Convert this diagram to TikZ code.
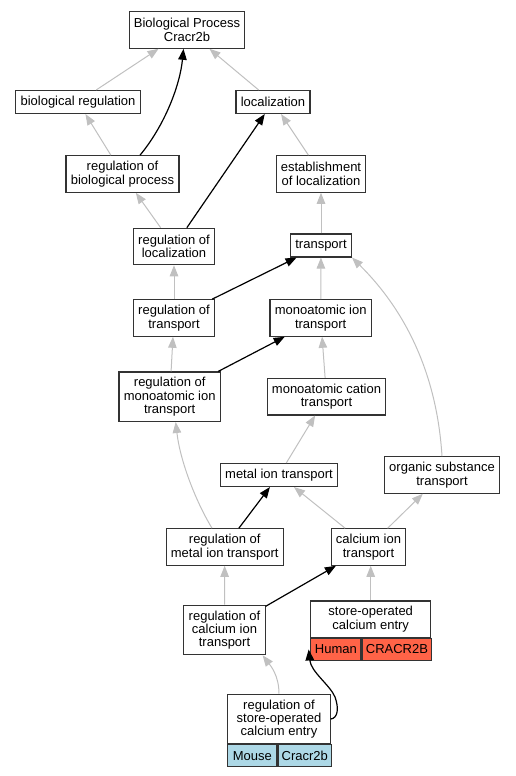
\documentclass[tikz,border=0pt]{standalone}
\usepackage{fontspec}
\setmainfont{Liberation Sans}
\usetikzlibrary{arrows.meta}
\definecolor{human}{RGB}{255,99,71}
\definecolor{mouse}{RGB}{173,216,230}
\definecolor{edgegray}{RGB}{192,192,192}
\tikzset{>={Triangle[length=11pt,width=8.5pt]}}
\tikzset{
	term/.style={draw=black!80, line width=1.1pt, fill=white, align=center, inner xsep=4.8pt, inner ysep=0pt, minimum height=23pt},
	two/.style={minimum height=36.5pt},
	three/.style={minimum height=49.5pt},
	cell/.style={draw=black!80, line width=1.1pt, inner sep=0pt, minimum height=21.7pt, anchor=north west},
	isa/.style={->, edgegray, line width=1pt},
	hit/.style={->, black, line width=1.2pt}
}

\begin{document}
\begin{tikzpicture}[x=1pt, y=-1pt, font=\fontsize{13}{13.3}\selectfont]
	\useasboundingbox (0,0) rectangle (515,776);
	\node [term, two] (bp) at (187,30) {Biological Process\\Cracr2b};
	\node [term] (bioreg) at (78,102) {biological regulation};
	\node [term] (loc) at (273,102) {localization};
	\node [term, two] (regbio) at (122.5,174) {regulation of\\biological process};
	\node [term, two] (estloc) at (321,174) {establishment\\of localization};
	\node [term, two] (regloc) at (174,246.5) {regulation of\\localization};
	\node [term] (transp) at (321,245.5) {transport};
	\node [term, two] (regtransp) at (174,318) {regulation of\\transport};
	\node [term, two] (ion) at (320.7,318) {monoatomic ion\\transport};
	\node [term, three] (region) at (169.7,396.7) {regulation of\\monoatomic ion\\transport};
	\node [term, two] (cation) at (326.5,396.7) {monoatomic cation\\transport};
	\node [term] (metal) at (279,475) {metal ion transport};
	\node [term, two] (organic) at (442,475) {organic substance\\transport};
	\node [term, two] (regmetal) at (224.7,547) {regulation of\\metal ion transport};
	\node [term, two] (calcium) at (368.5,547) {calcium ion\\transport};
	\node [term, three] (regcalcium) at (224.5,630) {regulation of\\calcium ion\\transport};
	\node [term, two, minimum width=120pt] (soce) at (370.7,619.2) {store-operated\\calcium entry};
	\node [cell, fill=human, minimum width=50.3pt] (soceH) at (soce.south west) {Human};
	\node [cell, fill=human, minimum width=69.7pt] (soceG) at (soceH.north east) {CRACR2B};
	\node [term, three, minimum width=102.6pt] (regsoce) at (279,719) {regulation of\\store-operated\\calcium entry};
	\node [cell, fill=mouse, minimum width=49.3pt] (regsoceM) at (regsoce.south west) {Mouse};
	\node [cell, fill=mouse, minimum width=53.3pt] (regsoceG) at (regsoceM.north east) {Cracr2b};

	\draw [isa] (bioreg) -- (bp);
	\draw [isa] (loc) -- (bp);
	\draw [isa] (regbio) -- (bioreg);
	\draw [isa] (estloc) -- (loc);
	\draw [isa] (regloc) -- (regbio);
	\draw [isa] (transp) -- (estloc);
	\draw [isa] (regtransp) -- (regloc);
	\draw [isa] (ion) -- (transp);
	\draw [isa] (organic.north) .. controls (436,360) and (395,300) .. (transp.south east);
	\draw [isa] (region) -- (regtransp);
	\draw [isa] (cation) -- (ion);
	\draw [isa] ([xshift=-12.7pt]regmetal.north) .. controls (195,500) and (180,460) .. ([xshift=6pt]region.south);
	\draw [isa] (metal) -- (cation);
	\draw [isa] (calcium) -- (metal);
	\draw [isa] (calcium) -- (organic);
	\draw [isa] (soce.north) -- (soce.north |- calcium.south);
	\draw [isa] (regcalcium) -- (regmetal);
	\draw [isa] (regsoce.north) .. controls (279,675) and (270,665) .. ([xshift=-3pt]regcalcium.south east);

	\draw [hit] ([xshift=17.5pt]regbio.north) .. controls (165,125) and (180,85) .. ([xshift=-3.5pt]bp.south);
	\draw [hit] (regloc) -- (loc);
	\draw [hit] (regtransp) -- (transp);
	\draw [hit] (region) -- (ion);
	\draw [hit] (regmetal) -- (metal);
	\draw [hit] (regcalcium) -- (calcium);
	\draw [hit] (regsoce.east) .. controls (338,718) and (339,708) .. (335,697) .. controls (330,685) and (311,672) .. ([xshift=-1.5pt]soceH.west);
\end{tikzpicture}
\end{document}
